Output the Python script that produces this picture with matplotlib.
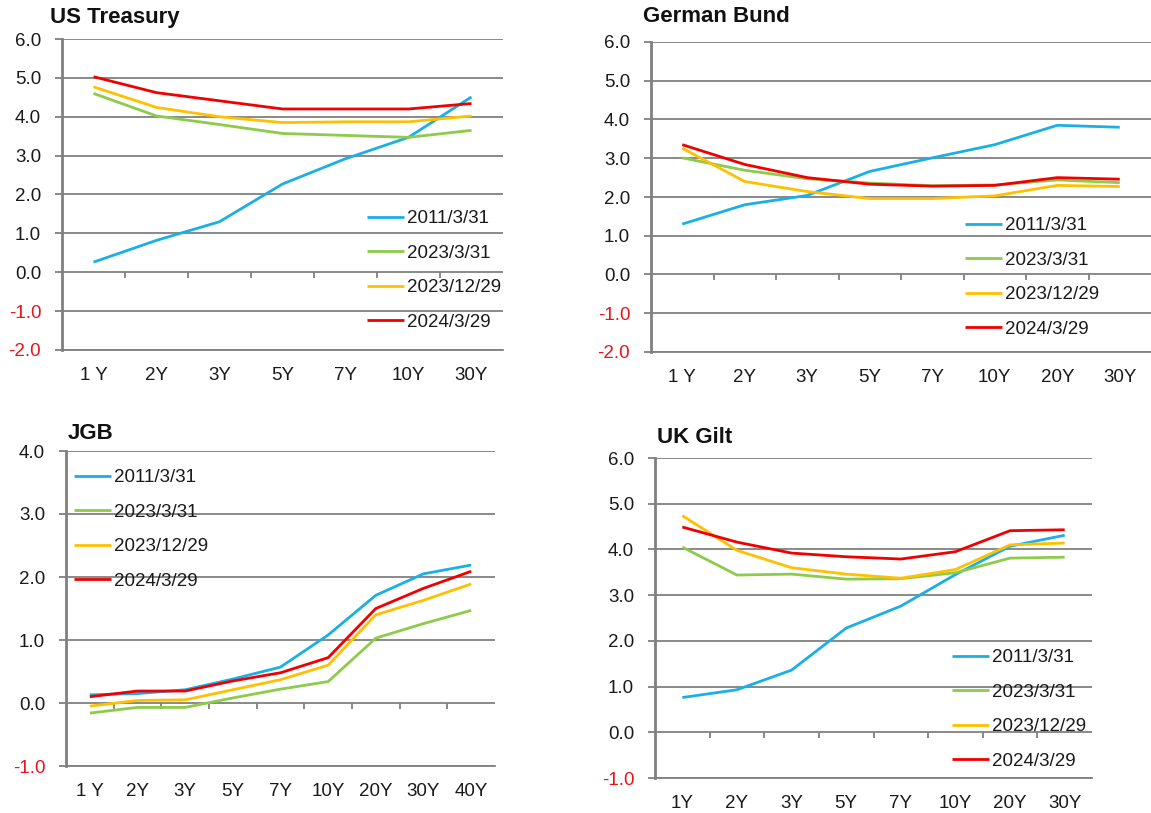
import matplotlib
matplotlib.use("Agg")
import matplotlib.pyplot as plt

plt.rcParams['font.family'] = ['Liberation Sans', 'DejaVu Sans']

series_labels = ["2011/3/31", "2023/3/31", "2023/12/29", "2024/3/29"]
series_colors = ["#1AAFE6", "#8DCB4A", "#FFC000", "#F00000"]

# US Treasury
us_tenors = ["1 Y", "2Y", "3Y", "5Y", "7Y", "10Y", "30Y"]
us_2011 = [0.26, 0.82, 1.30, 2.27, 2.92, 3.47, 4.51]
us_2023_03 = [4.60, 4.02, 3.80, 3.57, 3.52, 3.47, 3.65]
us_2023_12 = [4.77, 4.24, 4.00, 3.85, 3.87, 3.87, 4.02]
us_2024_03 = [5.03, 4.62, 4.41, 4.20, 4.20, 4.20, 4.34]

# German Bund
de_tenors = ["1 Y", "2Y", "3Y", "5Y", "7Y", "10Y", "20Y", "30Y"]
de_2011 = [1.30, 1.80, 2.04, 2.66, 3.01, 3.35, 3.85, 3.80]
de_2023_03 = [3.01, 2.69, 2.47, 2.36, 2.29, 2.31, 2.44, 2.37]
de_2023_12 = [3.26, 2.40, 2.14, 1.96, 1.96, 2.03, 2.30, 2.27]
de_2024_03 = [3.35, 2.84, 2.50, 2.33, 2.28, 2.30, 2.50, 2.46]

# JGB
jp_tenors = ["1 Y", "2Y", "3Y", "5Y", "7Y", "10Y", "20Y", "30Y", "40Y"]
jp_2011 = [0.13, 0.15, 0.21, 0.38, 0.57, 1.08, 1.71, 2.05, 2.19]
jp_2023_03 = [-0.16, -0.07, -0.07, 0.08, 0.22, 0.34, 1.03, 1.26, 1.47]
jp_2023_12 = [-0.05, 0.04, 0.05, 0.21, 0.37, 0.60, 1.40, 1.63, 1.89]
jp_2024_03 = [0.10, 0.19, 0.19, 0.35, 0.48, 0.72, 1.50, 1.82, 2.09]

# UK Gilt
uk_tenors = ["1Y", "2Y", "3Y", "5Y", "7Y", "10Y", "20Y", "30Y"]
uk_2011 = [0.76, 0.93, 1.36, 2.28, 2.76, 3.45, 4.07, 4.31]
uk_2023_03 = [4.05, 3.44, 3.46, 3.35, 3.36, 3.49, 3.81, 3.83]
uk_2023_12 = [4.74, 3.98, 3.60, 3.46, 3.37, 3.56, 4.10, 4.14]
uk_2024_03 = [4.49, 4.16, 3.92, 3.84, 3.79, 3.95, 4.41, 4.43]

W, H = 1151, 813
fig = plt.figure(figsize=(W / 100, H / 100), dpi=100)

GRID = "#808080"
FS = 13.5


def px_rect(l, t, r, b):
    return [l / W, 1 - b / H, (r - l) / W, (b - t) / H]


def make_panel(rect, tenors, data, ylim, title, title_xy, leg_xy):
    ax = fig.add_axes(px_rect(*rect))
    x = list(range(len(tenors)))
    for vals, lab, col in zip(data, series_labels, series_colors):
        ax.plot(x, vals, color=col, lw=2.0, label=lab, solid_capstyle='butt')
    ymin, ymax = ylim
    ax.set_ylim(ymin, ymax)
    ax.set_xlim(-0.5, len(tenors) - 0.5)
    ticks = [float(v) for v in range(int(ymin), int(ymax) + 1)]
    ax.set_yticks(ticks)
    ax.set_yticklabels([f"{v:.1f}" for v in ticks])
    for lbl, v in zip(ax.get_yticklabels(), ticks):
        lbl.set_color("#E8141B" if v < 0 else "#1a1a1a")
    ax.yaxis.grid(True, color=GRID, lw=1.3)
    ax.set_axisbelow(True)
    ax.tick_params(axis='y', direction='out', length=5, width=1.3, color=GRID,
                   labelsize=FS, pad=10)
    ax.set_xticks(x)
    ax.set_xticklabels(tenors)
    ax.tick_params(axis='x', length=0, labelsize=FS, pad=12, labelcolor="#1a1a1a")
    for s in ['top', 'right']:
        ax.spines[s].set_visible(False)
    ax.spines['left'].set_color(GRID)
    ax.spines['left'].set_linewidth(2.0)
    ax.spines['bottom'].set_color(GRID)
    ax.spines['bottom'].set_linewidth(1.3)
    # zero axis with category-boundary ticks
    frac0 = (0 - ymin) / (ymax - ymin)
    sec = ax.secondary_xaxis(frac0)
    sec.set_xticks([i + 0.5 for i in range(len(tenors) - 1)])
    sec.set_xticklabels([])
    sec.tick_params(direction='out', length=4, width=1.3, color=GRID)
    for s in sec.spines.values():
        s.set_visible(False)
    fig.text(title_xy[0] / W, 1 - title_xy[1] / H, title, fontsize=16,
             fontweight='bold', ha='left', va='center', color="#111111")
    leg = ax.legend(loc='upper left', bbox_to_anchor=(leg_xy[0] / W, 1 - leg_xy[1] / H),
                    bbox_transform=fig.transFigure, frameon=False, fontsize=FS,
                    handlelength=1.95, handletextpad=0.2, labelspacing=0.93,
                    borderpad=0, borderaxespad=0)
    for t in leg.get_texts():
        t.set_color("#1a1a1a")
    return ax


make_panel((62, 39, 503, 350), us_tenors, [us_2011, us_2023_03, us_2023_12, us_2024_03],
           (-2, 6), "US Treasury", (50, 18), (367, 210))
make_panel((651, 42, 1151, 352), de_tenors, [de_2011, de_2023_03, de_2023_12, de_2024_03],
           (-2, 6), "German Bund", (643, 17), (965, 217))
make_panel((66, 451, 495, 766), jp_tenors, [jp_2011, jp_2023_03, jp_2023_12, jp_2024_03],
           (-1, 4), "JGB", (68, 433), (74, 469))
make_panel((655, 458, 1092, 778), uk_tenors, [uk_2011, uk_2023_03, uk_2023_12, uk_2024_03],
           (-1, 6), "UK Gilt", (657, 437), (952, 649))

fig.savefig("out.png", dpi=100)
